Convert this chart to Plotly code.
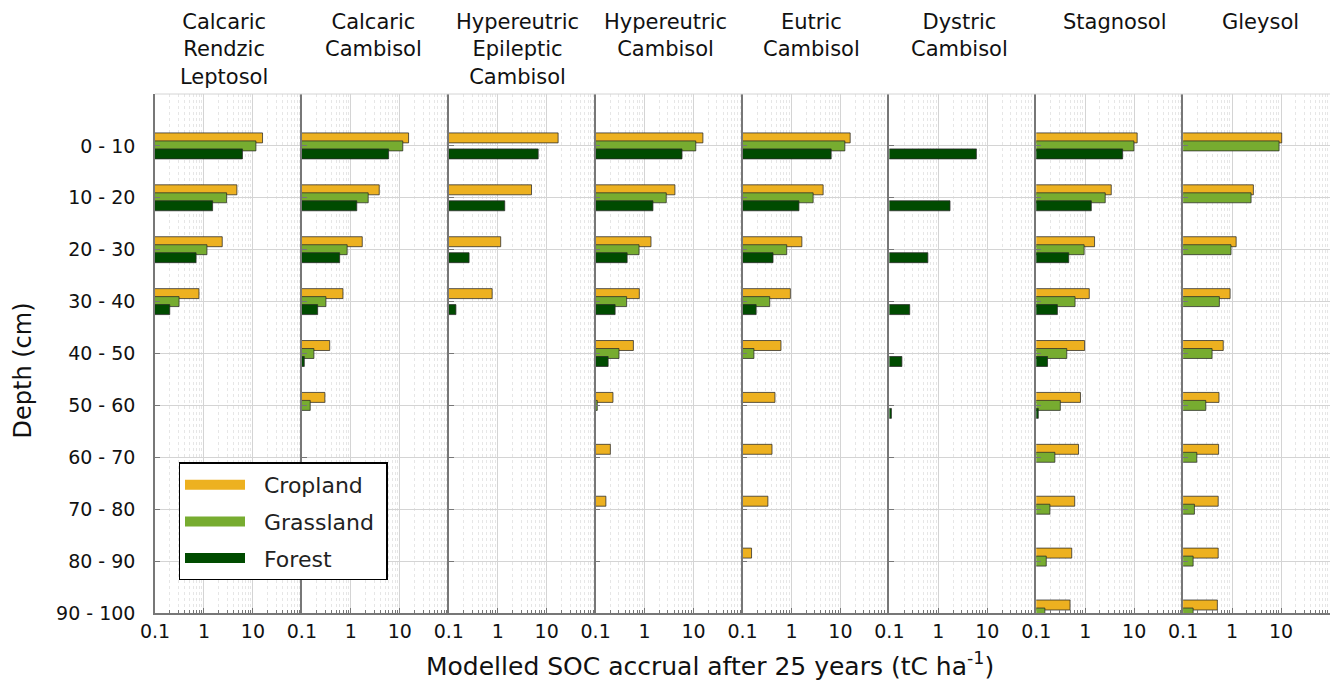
import plotly.graph_objects as go
from plotly.subplots import make_subplots

# depth classes, top to bottom
depths = ["0 - 10", "10 - 20", "20 - 30", "30 - 40", "40 - 50",
          "50 - 60", "60 - 70", "70 - 80", "80 - 90", "90 - 100"]

soils = [
    "Calcaric<br>Rendzic<br>Leptosol",
    "Calcaric<br>Cambisol",
    "Hypereutric<br>Epileptic<br>Cambisol",
    "Hypereutric<br>Cambisol",
    "Eutric<br>Cambisol",
    "Dystric<br>Cambisol",
    "Stagnosol",
    "Gleysol",
]

# modelled SOC accrual after 25 years (tC/ha), one list per soil, per depth
cropland = [
    [15.7, 4.7, 2.36, 0.79, None, None, None, None, None, None],
    [15.1, 3.8, 1.71, 0.69, 0.37, 0.295, None, None, None, None],
    [17.1, 4.9, 1.15, 0.77, None, None, None, None, None, None],
    [15.5, 4.16, 1.35, 0.78, 0.59, 0.226, 0.2, 0.162, None, None],
    [15.8, 4.43, 1.63, 0.95, 0.61, 0.46, 0.40, 0.33, 0.153, None],
    [None, None, None, None, None, None, None, None, None, None],
    [11.5, 3.4, 1.55, 1.21, 0.97, 0.80, 0.73, 0.61, 0.53, 0.49],
    [10.3, 2.72, 1.21, 0.91, 0.66, 0.54, 0.53, 0.52, 0.52, 0.50],
]
grassland = [
    [11.5, 2.9, 1.15, 0.31, None, None, None, None, None, None],
    [11.5, 2.26, 0.84, 0.31, 0.176, 0.148, None, None, None, None],
    [None, None, None, None, None, None, None, None, None, None],
    [11.1, 2.77, 0.77, 0.43, 0.30, 0.108, None, None, None, None],
    [12.3, 2.77, 0.80, 0.36, 0.171, None, None, None, None, None],
    [None, None, None, None, None, None, None, None, None, None],
    [9.86, 2.56, 0.95, 0.62, 0.42, 0.31, 0.24, 0.19, 0.16, 0.15],
    [9.1, 2.44, 0.95, 0.55, 0.39, 0.29, 0.19, 0.17, 0.16, 0.16],
]
forest = [
    [6.1, 1.5, 0.69, 0.20, None, None, None, None, None, None],
    [5.9, 1.32, 0.59, 0.21, 0.112, None, None, None, None, None],
    [6.7, 1.39, 0.26, 0.14, None, None, None, None, None, None],
    [5.8, 1.48, 0.44, 0.25, 0.18, None, None, None, None, None],
    [6.46, 1.42, 0.42, 0.19, None, None, None, None, None, None],
    [5.97, 1.73, 0.61, 0.26, 0.18, 0.11, None, None, None, None],
    [5.8, 1.33, 0.46, 0.27, 0.17, 0.11, None, None, None, None],
    [None, None, None, None, None, None, None, None, None, None],
]

land_uses = [
    ("Cropland", cropland, "#EDB120", -0.25),
    ("Grassland", grassland, "#77AC30", -0.096),
    ("Forest", forest, "#004B00", 0.058),
]

# panel titles are not quite centred on the panels in the original (px)
title_x_px = [224, 373, 517, 665, 811, 959, 1115, 1260]

FONT = "DejaVu Sans"
NB = "\u00a0"
ML, W = 155, 1330
ypos = list(range(len(depths)))

fig = make_subplots(rows=1, cols=len(soils), shared_yaxes=True,
                    horizontal_spacing=0)

for col in range(len(soils)):
    for name, values, color, offset in land_uses:
        fig.add_trace(
            go.Bar(
                x=values[col],
                y=ypos,
                orientation="h",
                name=name,
                width=0.192,
                offset=offset,
                marker=dict(color=color,
                            line=dict(color="rgba(40,40,40,0.75)", width=1)),
                showlegend=False,
            ),
            row=1, col=col + 1,
        )

# legend entries drawn as thick lines, like the original
for name, values, color, offset in land_uses:
    fig.add_trace(
        go.Scatter(x=[None], y=[None], mode="lines",
                   name=NB * 2 + name + NB,
                   legendgroup=name,
                   line=dict(color=color, width=11)),
        row=1, col=1,
    )

for col in range(len(soils)):
    fig.update_xaxes(
        type="log", range=[-1, 1.999], dtick=1,
        showgrid=True, gridcolor="#d4d4d4", gridwidth=1,
        minor=dict(dtick="D1", showgrid=True, gridcolor="#e6e6e6",
                   griddash="dot", ticks="inside", ticklen=3,
                   tickcolor="#777777"),
        ticks="inside", ticklen=5, tickcolor="#777777",
        showline=True, linecolor="#777777", linewidth=1.5,
        zeroline=False,
        tickfont=dict(family=FONT, size=19, color="#111111"),
        row=1, col=col + 1,
    )
    fig.update_yaxes(
        range=[9, -1],
        tickvals=[-1] + ypos, ticktext=[""] + depths,
        showgrid=True, gridcolor="#d4d4d4", gridwidth=1,
        ticks="inside", ticklen=5, tickcolor="#777777",
        showline=True, linecolor="#777777", linewidth=1.5,
        zeroline=False,
        tickfont=dict(family=FONT, size=19, color="#111111"),
        ticklabelstandoff=14,
        row=1, col=col + 1,
    )
    fig.add_annotation(
        text=soils[col], xref="paper", yref="paper",
        x=(title_x_px[col] - ML) / (W - ML), y=1.0, yshift=86,
        xanchor="center", yanchor="top", showarrow=False,
        font=dict(family=FONT, size=21, color="#111111"),
    )

# light top border of the panels
fig.add_shape(type="line", xref="paper", yref="paper", x0=0, x1=1, y0=1, y1=1,
              line=dict(color="#d4d4d4", width=1))

fig.add_annotation(
    text="Modelled SOC accrual after 25 years (tC ha<sup>-1</sup>)",
    xref="paper", yref="paper", x=0.4725, y=-0.1, yanchor="middle",
    showarrow=False, font=dict(family=FONT, size=25, color="#111111"),
)
fig.add_annotation(
    text="Depth (cm)", textangle=-90,
    xref="paper", yref="paper", x=-0.112, y=0.468, xanchor="center",
    yanchor="middle", showarrow=False,
    font=dict(family=FONT, size=24, color="#111111"),
)

fig.update_layout(
    width=W, height=681,
    margin=dict(l=ML, r=0, t=94, b=68),
    plot_bgcolor="white", paper_bgcolor="white",
    barmode="overlay",
    legend=dict(
        x=0.02, y=0.29, xanchor="left", yanchor="top",
        bgcolor="white", bordercolor="black", borderwidth=1.5,
        font=dict(family=FONT, size=22, color="#222222"),
        itemwidth=60, tracegroupgap=5,
    ),
)

fig.write_html("out.html", config={"displayModeBar": False},
               post_script="document.body.style.margin='0';")
